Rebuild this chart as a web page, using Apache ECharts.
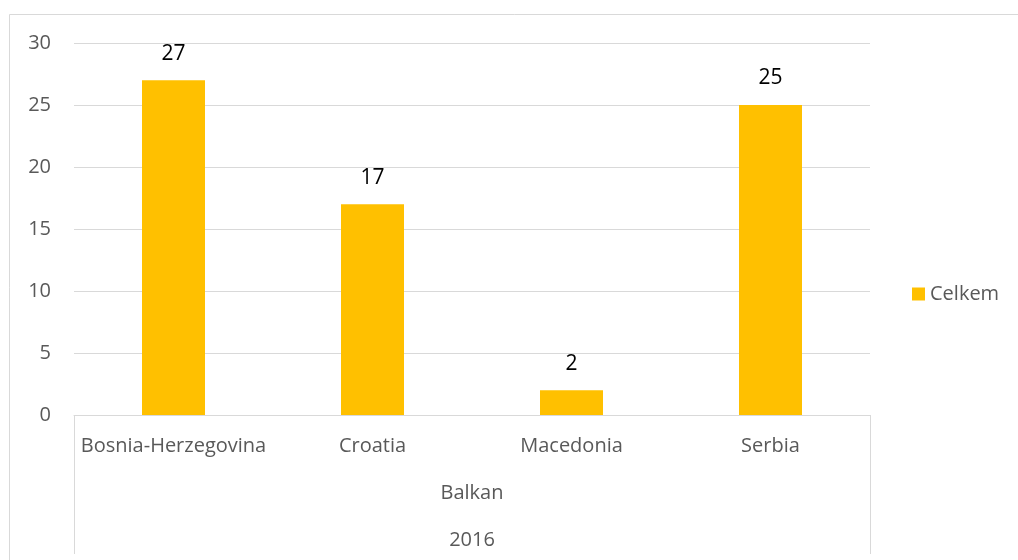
<!DOCTYPE html>
<html>
<head>
<meta charset="utf-8">
<script src="https://cdn.jsdelivr.net/npm/echarts@6/dist/echarts.min.js"></script>
<style>
  html, body { margin: 0; padding: 0; background: #fff; }
  #chart { width: 1018px; height: 560px; }
</style>
</head>
<body>
<div id="chart"></div>
<script>
// Column chart: incidents per country, grouped by region and year
const countries = ['Bosnia-Herzegovina', 'Croatia', 'Macedonia', 'Serbia'];
const celkem = [27, 17, 2, 25];
const regions = ['Balkan'];
const years = ['2016'];
const seriesName = 'Celkem';

const FONT = '"Open Sans", "Noto Sans", sans-serif';
const GRAY_TEXT = '#595959';
const LINE = '#d9d9d9';

const chart = echarts.init(document.getElementById('chart'));
chart.setOption({
  animation: false,
  backgroundColor: '#ffffff',
  textStyle: { fontFamily: FONT },
  graphic: [{
    type: 'rect',
    shape: { x: 9.5, y: 14.5, width: 1030, height: 570 },
    style: { fill: 'none', stroke: LINE, lineWidth: 1 },
    silent: true,
    z: -1
  }],
  grid: { left: 74, right: 148, top: 43, bottom: 145, containLabel: false },
  legend: {
    data: [seriesName],
    orient: 'vertical',
    left: 907,
    top: 279,
    itemWidth: 13,
    itemHeight: 13,
    icon: 'rect',
    textStyle: { fontFamily: FONT, fontSize: 20, color: GRAY_TEXT }
  },
  xAxis: [
    {
      type: 'category',
      data: countries,
      position: 'bottom',
      axisLine: { show: true, lineStyle: { color: LINE, width: 1 } },
      axisTick: { show: false },
      axisLabel: { fontFamily: FONT, fontSize: 20, color: GRAY_TEXT, margin: 21, interval: 0 }
    },
    {
      type: 'category',
      data: regions,
      position: 'bottom',
      axisLine: { show: false },
      axisTick: { show: true, length: 139, lineStyle: { color: LINE, width: 1 } },
      axisLabel: { fontFamily: FONT, fontSize: 20, color: GRAY_TEXT, margin: 68 }
    },
    {
      type: 'category',
      data: years,
      position: 'bottom',
      axisLine: { show: false },
      axisTick: { show: false },
      axisLabel: { fontFamily: FONT, fontSize: 20, color: GRAY_TEXT, margin: 115 }
    }
  ],
  yAxis: {
    type: 'value',
    min: 0,
    max: 30,
    interval: 5,
    axisLine: { show: false },
    axisTick: { show: false },
    splitLine: { show: true, lineStyle: { color: LINE, width: 1 } },
    axisLabel: { fontFamily: FONT, fontSize: 20, color: GRAY_TEXT, margin: 23 }
  },
  series: [{
    name: seriesName,
    type: 'bar',
    xAxisIndex: 0,
    data: celkem,
    barWidth: 63,
    itemStyle: { color: '#FFC000' },
    label: {
      show: true,
      position: 'top',
      distance: 16,
      fontFamily: FONT,
      fontSize: 21,
      color: '#000000'
    }
  }]
});
</script>
</body>
</html>
